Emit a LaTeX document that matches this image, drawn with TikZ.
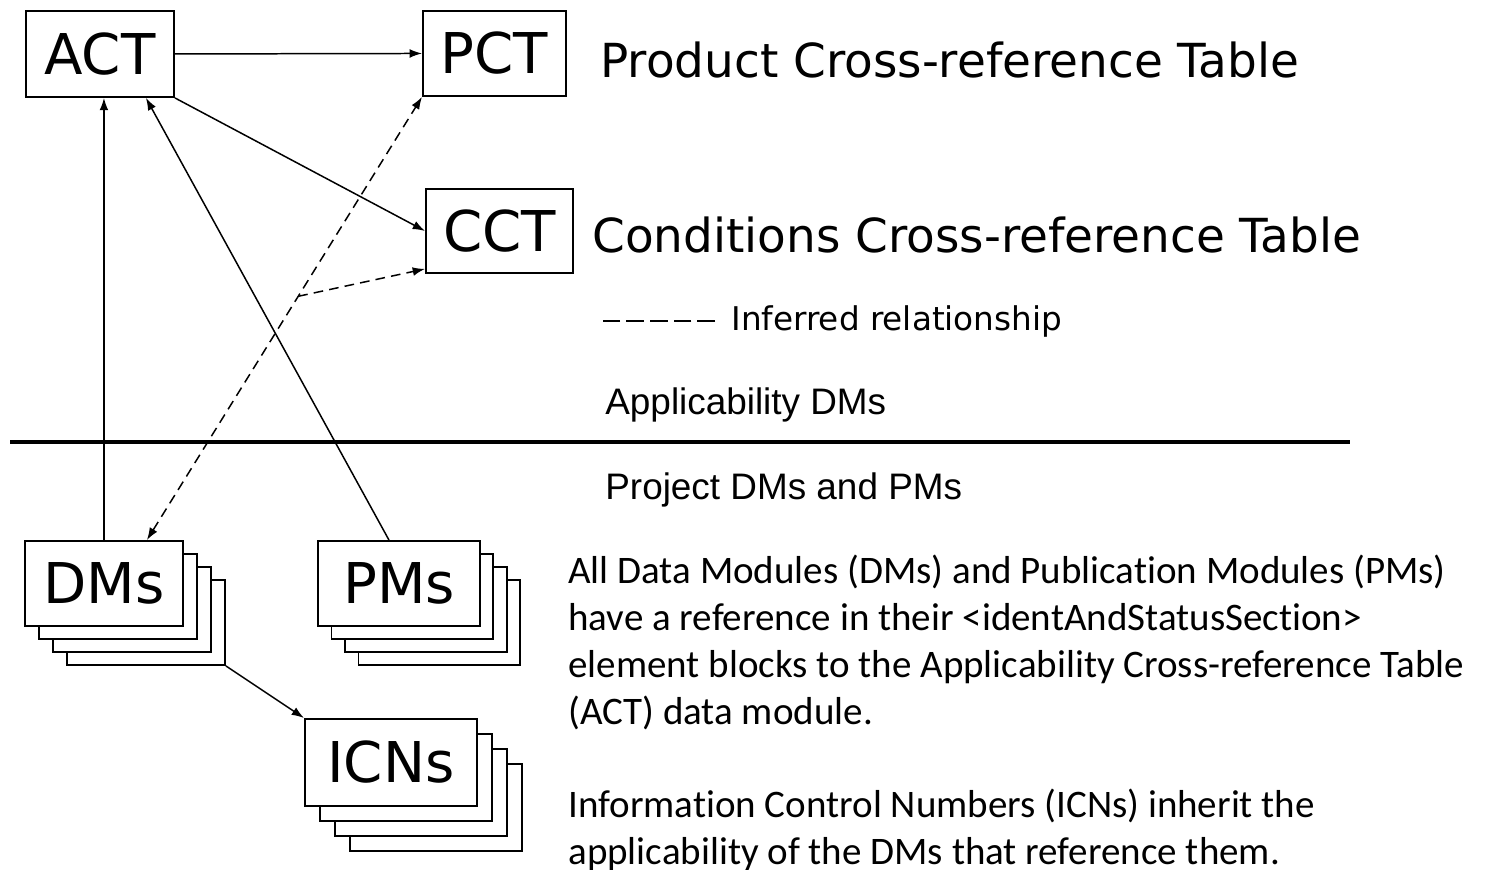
\documentclass[tikz,border=0pt]{standalone}
\usepackage{fontspec}
\setmainfont{Carlito}[Ligatures=NoCommon]
\newfontfamily\labelfont{DejaVu Sans}
\newfontfamily\layerfont{Liberation Sans}
\usetikzlibrary{arrows.meta}

\tikzset{
  module/.style={draw, line width=1.1pt, fill=white, anchor=north west, inner sep=0pt,
    font=\labelfont\fontsize{32}{38}\selectfont},
  link/.style={line width=0.85pt, -{Latex[length=7pt,width=5pt]}},
  inferred/.style={link, dash pattern=on 5.5pt off 3.5pt},
  title/.style={anchor=base west, inner sep=0pt, font=\labelfont\fontsize{26.7}{31}\selectfont},
  layer/.style={anchor=base west, inner sep=0pt, font=\layerfont\fontsize{21}{25}\selectfont},
}

\begin{document}
\begin{tikzpicture}[x=0.02cm, y=-0.02cm]
  \useasboundingbox (0,0) rectangle (1496,869);
  \clip (0,0) rectangle (1496,869);

  % Applicability DMs
  \node[module, minimum width=2.96cm, minimum height=1.72cm] (act) at (25,10) {ACT};
  \node[module, minimum width=2.86cm, minimum height=1.70cm] (pct) at (422,10) {PCT};
  \node[module, minimum width=2.94cm, minimum height=1.68cm] (cct) at (425,188) {CCT};

  \node[title] (pcttitle) at (600,77) {Product Cross-reference Table};
  \node[title] (ccttitle) at (592,252) {Conditions Cross-reference Table};

  % Legend
  \node[title, font=\labelfont\fontsize{18.6}{22}\selectfont] (legend) at (731,330) {Inferred relationship};
  \draw[line width=0.8pt, dash pattern=on 10pt off 3.5pt] ([xshift=-0.32cm]legend.west) -- ++(-113,0);

  % Divider between layers
  \node[layer] (upper) at (605,414) {Applicability DMs};
  \draw[line width=2.8pt] (10,442) -- (1350,442);
  \node[layer] (lower) at (605,499) {Project DMs and PMs};

  % Project DMs and PMs (stacked sheets)
  \foreach \k in {3,2,1}
    \node[module, minimum width=3.16cm, minimum height=1.70cm] (dms\k) at (24+14*\k,540+13*\k) {};
  \node[module, minimum width=3.16cm, minimum height=1.70cm] (dms) at (24,540) {DMs};

  \foreach \k in {3,2,1}
    \node[module, minimum width=3.24cm, minimum height=1.70cm] (pms\k) at (317+13.5*\k,540+13*\k) {};
  \node[module, minimum width=3.24cm, minimum height=1.70cm] (pms) at (317,540) {PMs};

  \foreach \k in {3,2,1}
    \node[module, minimum width=3.44cm, minimum height=1.74cm] (icns\k) at (304+15*\k,718+15*\k) {};
  \node[module, minimum width=3.44cm, minimum height=1.74cm] (icns) at (304,718) {ICNs};

  % Connectors
  \draw[link] (act.east) -- (pct.west);
  \draw[link] (act.south east) -- (cct.west);
  \draw[link] (dms.north) -- (dms.north |- act.south);
  \draw[link] ([xshift=-0.2cm]pms.north) -- ([xshift=0.92cm]act.south);
  \draw[inferred, {Latex[length=7pt,width=5pt]}-{Latex[length=7pt,width=5pt]}]
    ([xshift=0.86cm]dms.north) -- coordinate[pos=0.55] (fork) (pct.south west);
  \draw[inferred] (fork) -- ([yshift=0.1cm]cct.south west);
  \draw[link] (dms3.south east) -- (icns.north west);

  % Explanation
  \node[anchor=north west, inner sep=0pt, align=left, font=\fontsize{22.2}{26.6}\selectfont] (note) at (568,555)
    {All Data Modules (DMs) and Publication Modules (PMs)\\
     have a reference in their <identAndStatusSection>\\
     element blocks to the Applicability Cross-reference Table\\
     (ACT) data module.\\[26.6pt]
     Information Control Numbers (ICNs) inherit the\\
     applicability of the DMs that reference them.};
\end{tikzpicture}
\end{document}
